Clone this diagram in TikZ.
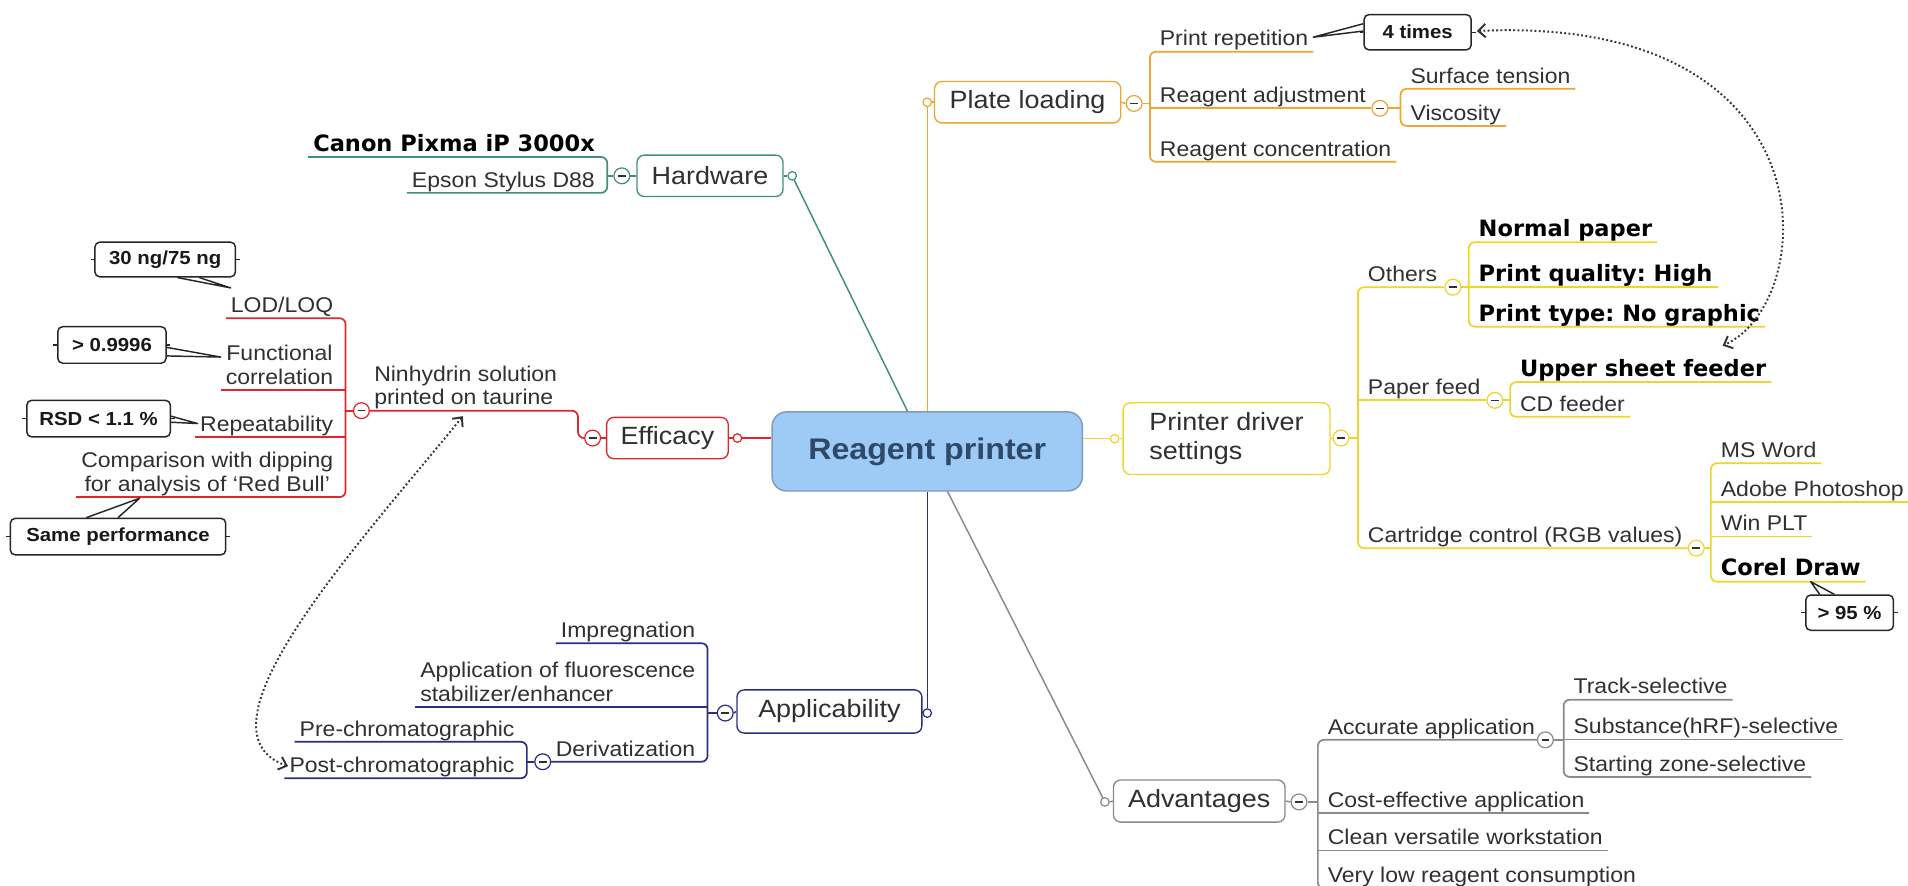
\documentclass[tikz,border=0pt]{standalone}
\usepackage{fontspec}
\setmainfont{Liberation Sans}[FakeStretch=1.08]
\newfontfamily\wideb{DejaVu Sans}
\frenchspacing
\usetikzlibrary{arrows.meta,backgrounds,calc}
\definecolor{teal1}{HTML}{3F8F7C}
\definecolor{red1}{HTML}{E0252F}
\definecolor{orange1}{HTML}{EBA72F}
\definecolor{yel1}{HTML}{EED52A}
\definecolor{navy1}{HTML}{2B2D84}
\definecolor{gray1}{HTML}{8A8A8A}
\definecolor{cfill}{HTML}{9DCBF6}
\definecolor{cborder}{HTML}{7E9CBB}
\definecolor{ctext}{HTML}{2E4A68}
\definecolor{txt}{HTML}{303030}
\begin{document}
\begin{tikzpicture}[x=1pt,y=-1pt,
  lf/.style={inner xsep=4pt, inner ysep=0pt, text height=13pt, text depth=4.5pt, font=\frenchspacing\fontsize{17.5}{19.5}\selectfont, text=txt},
  blf/.style={inner xsep=4pt, inner ysep=0pt, text height=14pt, text depth=4.5pt, font=\frenchspacing\wideb\bfseries\fontsize{18.5}{20}\selectfont, text=black},
  mlf/.style={inner xsep=4pt, inner ysep=0pt, font=\fontsize{17.5}{19.5}\selectfont, text=txt, execute at end node={\rule[-4.5pt]{0pt}{4.5pt}}},
  box/.style={draw=#1, rounded corners=6pt, line width=1.1pt, fill=white, font=\fontsize{20.5}{24}\selectfont, text=txt, minimum height=34pt, inner sep=0pt},
  rootbox/.style={draw=cborder, fill=cfill, rounded corners=12pt, line width=1.2pt, minimum width=255pt, minimum height=65pt, font=\bfseries\fontsize{24.5}{28}\selectfont, text=ctext},
  port/.style={circle, draw=#1, fill=white, line width=1pt, minimum size=7pt, inner sep=0pt},
  mn/.style={circle, draw=#1, fill=white, line width=1pt, minimum size=13pt, inner sep=0pt, path picture={\draw[txt, line width=1.3pt] ([xshift=-3.2pt]path picture bounding box.center) -- ([xshift=3.2pt]path picture bounding box.center);}},
  ul/.style={draw=#1, line width=1.4pt, rounded corners=5pt},
  conn/.style={draw=#1, line width=1.2pt},
  cbox/.style={draw=black!85, rounded corners=4pt, line width=1.2pt, fill=white, font=\bfseries\fontsize{15.5}{17}\selectfont, text=black!90, inner xsep=7pt, inner ysep=0pt},
  wedge/.style={draw=black!85, line width=1.2pt, fill=white, line join=round},
  tick/.style={draw=black!85, line width=1pt},
  rel/.style={draw=black!80, line width=1.6pt, dash pattern=on 1.5pt off 2pt, {Straight Barb[length=6pt,width=11pt]}-{Straight Barb[length=6pt,width=11pt]}}
]
\useasboundingbox (0,0) rectangle (1568,728);

% ---------- root ----------
\node[rootbox] (root) at (762,371) {Reagent printer};

% ---------- Hardware ----------
\node[box=teal1, minimum width=120pt] (hw) at (583.5,144.5) {Hardware};
\node[port=teal1] (hwp) at (651,144.5) {};
\node[mn=teal1] (hwm) at (511,144.5) {};
\coordinate (hwb) at (499,144.5);
\node[blf, anchor=south east] (canon) at (493,129) {Canon Pixma iP 3000x};
\node[lf, anchor=south east] (epson) at (493,158.5) {Epson Stylus D88};

% ---------- Efficacy ----------
\node[box=red1, minimum width=100pt] (eff) at (548.5,360) {Efficacy};
\node[port=red1] (effp) at (606,360) {};
\node[mn=red1] (effm) at (487,360) {};
\coordinate (effb) at (475,360);
\node[mlf, align=left, anchor=south east] (nin) at (462,337.5) {Ninhydrin solution\\printed on taurine};
\node[mn=red1] (ninm) at (297,337.5) {};
\coordinate (ninb) at (284,337.5);
\node[lf, anchor=south east] (lod) at (278,261.5) {LOD/LOQ};
\node[mlf, align=center, anchor=south east] (fc) at (278,320.5) {Functional\\correlation};
\node[lf, anchor=south east] (rep) at (278,359) {Repeatability};
\node[mlf, align=center, anchor=south east] (cmp) at (278,408.5) {Comparison with dipping\\for analysis of `Red Bull'};
\node[cbox, minimum width=115.5pt, minimum height=28.5pt] (c1) at (135.75,213.25) {30 ng/75 ng};
\node[cbox, minimum width=89pt, minimum height=30pt] (c2) at (92,283.5) {> 0.9996};
\node[cbox, minimum width=118pt, minimum height=30pt] (c3) at (81,344) {RSD < 1.1 \%};
\node[cbox, minimum width=177pt, minimum height=30pt] (c4) at (97,441) {Same performance};

% ---------- Plate loading ----------
\node[box=orange1, minimum width=153pt] (pl) at (844.5,84) {Plate loading};
\node[port=orange1] (plp) at (762,84) {};
\node[mn=orange1] (plm) at (932,85) {};
\coordinate (plb) at (945,85);
\node[lf, anchor=south west] (prep) at (949,42.5) {Print repetition};
\node[lf, anchor=south west] (radj) at (949,89) {Reagent adjustment};
\node[lf, anchor=south west] (rcon) at (949,133) {Reagent concentration};
\node[mn=orange1] (radjm) at (1134,89) {};
\coordinate (rab) at (1151,89);
\node[lf, anchor=south west] (surf) at (1155,73) {Surface tension};
\node[lf, anchor=south west] (visc) at (1155,103.5) {Viscosity};
\node[cbox, minimum width=88pt, minimum height=29pt] (c5) at (1165,26.5) {4 times};

% ---------- Printer driver settings ----------
\node[box=yel1, minimum width=170pt, minimum height=59pt, align=left] (pd) at (1008,360.5) {Printer driver\\settings};
\node[port=yel1] (pdp) at (916,360.5) {};
\node[mn=yel1] (pdm) at (1102,360) {};
\coordinate (pdb) at (1116,360);
\node[lf, anchor=south west] (oth) at (1120,236) {Others};
\node[lf, anchor=south west] (pf) at (1120,329) {Paper feed};
\node[lf, anchor=south west] (cc) at (1120,450.5) {Cartridge control (RGB values)};
\node[mn=yel1] (othm) at (1194,236) {};
\node[mn=yel1] (pfm) at (1228.5,329) {};
\node[mn=yel1] (ccm) at (1394,450.5) {};
\coordinate (othb) at (1207,236);
\node[blf, anchor=south west] (np) at (1211,199) {Normal paper};
\node[blf, anchor=south west] (pq) at (1211,236) {Print quality: High};
\node[blf, anchor=south west] (pt) at (1211,268.5) {Print type: No graphic};
\coordinate (pfb) at (1241,329);
\node[blf, anchor=south west] (usf) at (1245,314) {Upper sheet feeder};
\node[lf, anchor=south west] (cdf) at (1245,342.5) {CD feeder};
\coordinate (ccb) at (1406,450.5);
\node[lf, anchor=south west] (msw) at (1410,380.7) {MS Word};
\node[lf, anchor=south west] (aps) at (1410,412.6) {Adobe Photoshop};
\node[lf, anchor=south west] (wpl) at (1410,441) {Win PLT};
\node[blf, anchor=south west] (crd) at (1410,478) {Corel Draw};
\node[cbox, minimum width=72pt, minimum height=29pt] (c6) at (1520,503.5) {> 95 \%};

% ---------- Advantages ----------
\node[box=gray1, minimum width=141pt, minimum height=34.6pt] (adv) at (985.5,658.3) {Advantages};
\node[port=gray1] (advp) at (908,659) {};
\node[mn=gray1] (advm) at (1067.5,659) {};
\coordinate (advb) at (1083,659);
\node[lf, anchor=south west] (acc) at (1087,608) {Accurate application};
\node[lf, anchor=south west] (cea) at (1087,668) {Cost-effective application};
\node[lf, anchor=south west] (cvw) at (1087,699) {Clean versatile workstation};
\node[lf, anchor=south west] (vlr) at (1087,730) {Very low reagent consumption};
\node[mn=gray1] (accm) at (1270,608) {};
\coordinate (accb) at (1285,608);
\node[lf, anchor=south west] (trk) at (1289,575) {Track-selective};
\node[lf, anchor=south west] (sub) at (1289,607.6) {Substance(hRF)-selective};
\node[lf, anchor=south west] (stz) at (1289,638.5) {Starting zone-selective};

% ---------- Applicability ----------
\node[box=navy1, minimum width=152pt, minimum height=35.5pt] (app) at (681.6,584.7) {Applicability};
\node[port=navy1] (appp) at (762,586) {};
\node[mn=navy1] (appm) at (596,586) {};
\coordinate (appb) at (581.5,586);
\node[lf, anchor=south east] (imp) at (575.5,528.6) {Impregnation};
\node[mlf, align=left, anchor=south east] (afl) at (575.5,581) {Application of fluorescence\\stabilizer/enhancer};
\node[lf, anchor=south east] (der) at (575.5,626) {Derivatization};
\node[mn=navy1] (derm) at (446,626) {};
\coordinate (derb) at (433,626);
\node[lf, anchor=south east] (pre) at (427,609.6) {Pre-chromatographic};
\node[lf, anchor=south east] (post) at (427,639.6) {Post-chromatographic};

\begin{pgfonlayer}{background}
\fill[white] (0,0) rectangle (1568,728);
% root connectors
\draw[conn=teal1] (hwp) -- (root.center);
\draw[conn=gray1] (advp) -- (root.center);
\draw[conn=orange1] (plp.south) -- (plp |- root.north);
\draw[conn=navy1] (appp.north) -- (appp |- root.south);
\draw[conn=red1] (effp.east) -- (effp.east -| root.west);
\draw[conn=yel1] (pdp.west) -- (pdp.west -| root.east);
% Hardware
\draw[conn=teal1] (hw.east) -- (hwp.west);
\draw[conn=teal1] (hwm.east) -- (hw.west);
\draw[ul=teal1] (hwm.west) -- (hwb);
\draw[ul=teal1] (canon.south west) -- (canon.south west -| hwb) -- (epson.south west -| hwb) -- (epson.south west);
% Efficacy
\draw[conn=red1] (eff.east) -- (effp.west);
\draw[conn=red1] (effm.east) -- (eff.west);
\draw[ul=red1] (ninm.east) -- (ninm.east -| effb) -- (effb) -- (effm.west);
\draw[ul=red1] (ninm.west) -- (ninb);
\draw[ul=red1] (lod.south west) -- (lod.south west -| ninb) -- (cmp.south west -| ninb) -- (cmp.south west);
\draw[ul=red1] (fc.south west) -- (fc.south west -| ninb);
\draw[ul=red1] (rep.south west) -- (rep.south west -| ninb);
\filldraw[wedge] ($(c1.south)+(10,0)$) -- ($(lod.north west)+(4,-7)$) -- ($(c1.south)+(28,0)$);
\filldraw[wedge] ($(c2.east)+(0,2)$) -- ($(fc.north west)+(0,10)$) -- ($(c2.east)+(0,9)$);
\filldraw[wedge] ($(c3.east)+(0,-2)$) -- ($(rep.west)+(2,-2)$) -- ($(c3.east)+(0,3)$);
\filldraw[wedge] ($(c4.north)+(-26,0)$) -- ($(cmp.south west)+(52,1)$) -- ($(c4.north)+(0,0)$);
% Plate loading
\draw[conn=orange1] (plp.east) -- (pl.west);
\draw[conn=orange1] (pl.east) -- (plm.west);
\draw[ul=orange1] (plm.east) -- (plb);
\draw[ul=orange1] (prep.south east) -- (prep.south west -| plb) -- (rcon.south west -| plb) -- (rcon.south east);
\draw[ul=orange1] (radjm.west) -- (radj.south west -| plb);
\draw[ul=orange1] (radjm.east) -- (rab);
\draw[ul=orange1] (surf.south east) -- (surf.south west -| rab) -- (visc.south west -| rab) -- (visc.south east);
\filldraw[wedge] ($(c5.west)+(0,-7)$) -- ($(prep.east)+(0,-3)$) -- ($(c5.west)+(0,-1)$);
% Printer driver
\draw[conn=yel1] (pdp.east) -- (pd.west);
\draw[conn=yel1] (pd.east) -- (pdm.west);
\draw[ul=yel1] (pdm.east) -- (pdb);
\draw[ul=yel1] (othm.west) -- (oth.south west -| pdb) -- (cc.south west -| pdb) -- (ccm.west);
\draw[ul=yel1] (pfm.west) -- (pf.south west -| pdb);
\draw[ul=yel1] (othm.east) -- (othb);
\draw[ul=yel1] (np.south east) -- (np.south west -| othb) -- (pt.south west -| othb) -- (pt.south east);
\draw[ul=yel1] (pq.south west -| othb) -- (pq.south east);
\draw[ul=yel1] (pfm.east) -- (pfb);
\draw[ul=yel1] (usf.south east) -- (usf.south west -| pfb) -- (cdf.south west -| pfb) -- (cdf.south east);
\draw[ul=yel1] (ccm.east) -- (ccb);
\draw[ul=yel1] (msw.south east) -- (msw.south west -| ccb) -- (crd.south west -| ccb) -- (crd.south east);
\draw[ul=yel1] (aps.south west -| ccb) -- (aps.south east);
\draw[ul=yel1] (wpl.south west -| ccb) -- (wpl.south east);
\filldraw[wedge] ($(c6.north west)+(12,0)$) -- ($(crd.south west)+(78,0)$) -- ($(c6.north west)+(24,0)$);
% Advantages
\draw[conn=gray1] (advp.east) -- (adv.west);
\draw[conn=gray1] (adv.east) -- (advm.west);
\draw[ul=gray1] (advm.east) -- (advb);
\draw[ul=gray1] (accm.west) -- (acc.south west -| advb) -- (vlr.south west -| advb) -- (vlr.south east);
\draw[ul=gray1] (cea.south west -| advb) -- (cea.south east);
\draw[ul=gray1] (cvw.south west -| advb) -- (cvw.south east);
\draw[ul=gray1] (accm.east) -- (accb);
\draw[ul=gray1] (trk.south east) -- (trk.south west -| accb) -- (stz.south west -| accb) -- (stz.south east);
\draw[ul=gray1] (sub.south west -| accb) -- (sub.south east);
% Applicability
\draw[conn=navy1] (app.east) -- (appp.west);
\draw[conn=navy1] (appm.east) -- (app.west);
\draw[ul=navy1] (appm.west) -- (appb);
\draw[ul=navy1] (imp.south west) -- (imp.south west -| appb) -- (der.south west -| appb) -- (derm.east);
\draw[ul=navy1] (afl.south west) -- (afl.south west -| appb);
\draw[ul=navy1] (derm.west) -- (derb);
\draw[ul=navy1] (pre.south west) -- (pre.south west -| derb) -- (post.south west -| derb) -- (post.south west);
\end{pgfonlayer}

% callout ticks
\foreach \c in {c1,c2,c3,c4,c5,c6} {
  \draw[tick] (\c.west) -- ++(-3,0);
  \draw[tick] (\c.east) -- ++(3,0);
}

% relationships
\draw[rel] ($(c5.east)+(4,-1)$) .. controls +(295,-14) and +(80,-36) .. ($(usf.north east)+(-40,-11)$);
\draw[rel] ($(nin.south west)+(77,4.5)$) .. controls +(-79,98) and +(-85,-30) .. ($(post.west)+(3,-1)$);
\end{tikzpicture}
\end{document}
